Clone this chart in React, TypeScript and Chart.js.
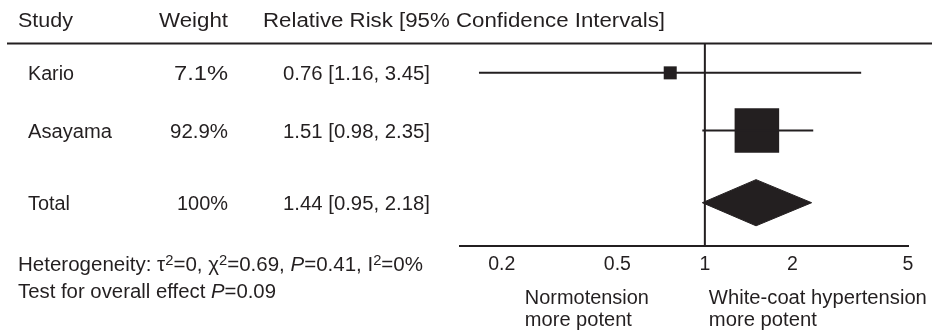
import React, { useEffect, useRef } from "react";
import { Chart, registerables } from "chart.js";

Chart.register(...registerables);

// ---- data ----
const studyNames = ["Kario", "Asayama"];
const studyWeights = ["7.1%", "92.9%"];
const studyRRText = ["0.76 [1.16, 3.45]", "1.51 [0.98, 2.35]"];
const studyEstimate = [0.76, 1.51];
const studyLower = [0.167, 0.98];
const studyUpper = [3.45, 2.36];

const totalName = "Total";
const totalWeight = "100%";
const totalRRText = "1.44 [0.95, 2.18]";
const totalEstimate = 1.5;
const totalLower = 0.98;
const totalUpper = 2.33;

const xTicks = [0.2, 0.5, 1, 2, 5];
const xTickLabels = ["0.2", "0.5", "1", "2", "5"];

const headerStudy = "Study";
const headerWeight = "Weight";
const headerRR = "Relative Risk [95% Confidence Intervals]";
const leftFavour = ["Normotension", "more potent"];
const rightFavour = ["White-coat hypertension", "more potent"];

// ---- style / layout ----
const INK = "#231f20";
const FONT_FAMILY = '"Liberation Sans", Arial, Helvetica, sans-serif';
const FONT_SIZE = 19.5;
const ROW_POS = [1, 2];
const TOTAL_POS = 3.25;
const DIAMOND_HALF = 0.4;
const SQUARE_RADIUS = [9.2, 31.5];

// text widths (px) in the layout, used to fit each text run horizontally
const W_NAME = [46, 84];
const W_TOTAL_NAME = 42;
const W_WEIGHT = [54, 58];
const W_TOTAL_WEIGHT = 51;
const W_RR = 147;

type Seg = { t: string; sup?: boolean; italic?: boolean };

function drawRich(
  ctx: CanvasRenderingContext2D,
  segs: Seg[],
  x: number,
  y: number,
  align: "left" | "right",
  targetWidth: number
) {
  const fontFor = (s: Seg) =>
    `${s.italic ? "italic " : ""}${s.sup ? FONT_SIZE * 0.72 : FONT_SIZE}px ${FONT_FAMILY}`;
  let total = 0;
  for (const s of segs) {
    ctx.font = fontFor(s);
    total += ctx.measureText(s.t).width;
  }
  const sx = targetWidth / total;
  ctx.save();
  ctx.translate(align === "right" ? x - targetWidth : x, y);
  ctx.scale(sx, 1);
  ctx.fillStyle = INK;
  ctx.textBaseline = "alphabetic";
  ctx.textAlign = "left";
  let cx = 0;
  for (const s of segs) {
    ctx.font = fontFor(s);
    ctx.fillText(s.t, cx, s.sup ? -6.5 : 0);
    cx += ctx.measureText(s.t).width;
  }
  ctx.restore();
}

const textPlugin = {
  id: "forestText",
  afterDraw(chart: any) {
    const ctx: CanvasRenderingContext2D = chart.ctx;
    const yScale = chart.scales.y;
    const xScale = chart.scales.x;
    ctx.save();
    // top rule
    ctx.strokeStyle = INK;
    ctx.lineWidth = 2;
    ctx.beginPath();
    ctx.moveTo(7, 43.5);
    ctx.lineTo(932, 43.5);
    ctx.stroke();

    // header
    drawRich(ctx, [{ t: headerStudy }], 18, 27, "left", 55);
    drawRich(ctx, [{ t: headerWeight }], 228, 27, "right", 69);
    drawRich(ctx, [{ t: headerRR }], 263, 27, "left", 402);

    // rows
    studyNames.forEach((name, i) => {
      const y = yScale.getPixelForValue(ROW_POS[i]) + 7;
      drawRich(ctx, [{ t: name }], 28, y, "left", W_NAME[i]);
      drawRich(ctx, [{ t: studyWeights[i] }], 228, y, "right", W_WEIGHT[i]);
      drawRich(ctx, [{ t: studyRRText[i] }], 430, y, "right", W_RR);
    });
    const ty = yScale.getPixelForValue(TOTAL_POS) + 7;
    drawRich(ctx, [{ t: totalName }], 28, ty, "left", W_TOTAL_NAME);
    drawRich(ctx, [{ t: totalWeight }], 228, ty, "right", W_TOTAL_WEIGHT);
    drawRich(ctx, [{ t: totalRRText }], 430, ty, "right", W_RR);

    // footnotes
    drawRich(
      ctx,
      [
        { t: "Heterogeneity: τ" },
        { t: "2", sup: true },
        { t: "=0, χ" },
        { t: "2", sup: true },
        { t: "=0.69, " },
        { t: "P", italic: true },
        { t: "=0.41, I" },
        { t: "2", sup: true },
        { t: "=0%" },
      ],
      18,
      271,
      "left",
      405
    );
    drawRich(
      ctx,
      [{ t: "Test for overall effect " }, { t: "P", italic: true }, { t: "=0.09" }],
      18,
      298,
      "left",
      258
    );

    // favour labels
    const x1 = xScale.getPixelForValue(1);
    drawRich(ctx, [{ t: leftFavour[0] }], x1 - 180, 304, "left", 124);
    drawRich(ctx, [{ t: leftFavour[1] }], x1 - 180, 326, "left", 107);
    drawRich(ctx, [{ t: rightFavour[0] }], x1 + 4, 304, "left", 218);
    drawRich(ctx, [{ t: rightFavour[1] }], x1 + 4, 326, "left", 108);
    ctx.restore();
  },
};

export default function App() {
  const canvasRef = useRef<HTMLCanvasElement | null>(null);

  useEffect(() => {
    const canvas = canvasRef.current;
    if (!canvas) return;

    const datasets: any[] = [];
    // null line at RR = 1
    datasets.push({
      type: "scatter",
      data: [
        { x: 1, y: 0.5 },
        { x: 1, y: 4 },
      ],
      showLine: true,
      borderColor: INK,
      borderWidth: 2,
      pointRadius: 0,
    });
    // confidence interval lines
    studyNames.forEach((_, i) => {
      datasets.push({
        type: "scatter",
        data: [
          { x: studyLower[i], y: ROW_POS[i] },
          { x: studyUpper[i], y: ROW_POS[i] },
        ],
        showLine: true,
        borderColor: INK,
        borderWidth: 2,
        pointRadius: 0,
      });
    });
    // squares
    datasets.push({
      type: "scatter",
      data: studyNames.map((_, i) => ({ x: studyEstimate[i], y: ROW_POS[i] })),
      pointStyle: "rect",
      pointRadius: SQUARE_RADIUS,
      backgroundColor: INK,
      borderWidth: 0,
    });
    // diamond
    datasets.push({
      type: "scatter",
      data: [
        { x: totalLower, y: TOTAL_POS },
        { x: totalEstimate, y: TOTAL_POS - DIAMOND_HALF },
        { x: totalUpper, y: TOTAL_POS },
        { x: totalEstimate, y: TOTAL_POS + DIAMOND_HALF },
        { x: totalLower, y: TOTAL_POS },
      ],
      showLine: true,
      fill: "shape",
      backgroundColor: INK,
      borderColor: INK,
      borderWidth: 1,
      pointRadius: 0,
    });

    const chart = new Chart(canvas, {
      type: "scatter",
      data: { datasets },
      options: {
        responsive: false,
        animation: false,
        devicePixelRatio: 1,
        layout: { padding: { left: 460, right: 33, top: 44, bottom: 0 } },
        plugins: {
          legend: { display: false },
          tooltip: { enabled: false },
          title: { display: false },
        },
        scales: {
          x: {
            type: "logarithmic",
            position: "bottom",
            min: 0.1437,
            max: 5,
            grid: { display: false, drawTicks: false },
            border: { display: true, color: INK, width: 2 },
            afterBuildTicks: (scale: any) => {
              scale.ticks = xTicks.map((v) => ({ value: v }));
            },
            afterFit: (scale: any) => {
              scale.height = 84;
            },
            ticks: {
              autoSkip: false,
              maxRotation: 0,
              padding: 7,
              color: INK,
              font: { family: FONT_FAMILY, size: FONT_SIZE },
              callback: (value: any) => {
                const idx = xTicks.indexOf(Number(value));
                return idx >= 0 ? xTickLabels[idx] : "";
              },
            },
          },
          y: {
            type: "linear",
            display: false,
            min: 0.5,
            max: 4,
            reverse: true,
          },
        },
      } as any,
      plugins: [textPlugin],
    });

    return () => {
      chart.destroy();
    };
  }, []);

  return (
    <div style={{ position: "fixed", left: 0, top: 0, width: 941, height: 330, background: "#fff" }}>
      <canvas ref={canvasRef} width={941} height={330} style={{ display: "block", width: 941, height: 330 }} />
    </div>
  );
}
